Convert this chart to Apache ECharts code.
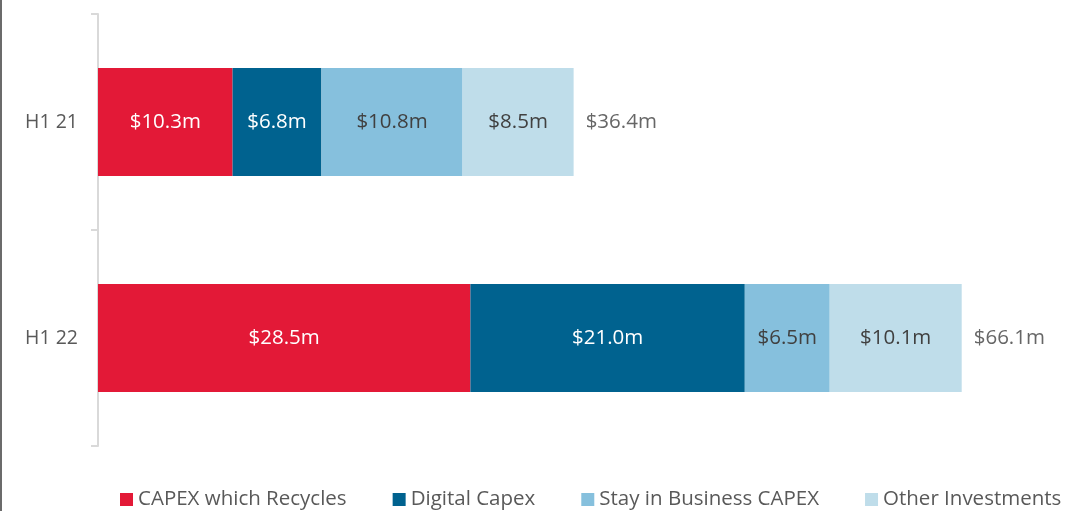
<!DOCTYPE html>
<html>
<head>
<meta charset="utf-8">
<script src="https://cdn.jsdelivr.net/npm/echarts@6/dist/echarts.min.js"></script>
<style>
  html, body { margin: 0; padding: 0; background: #fff; }
  #chart { width: 1078px; height: 511px; box-sizing: border-box; border-left: 2px solid #6b6b6b; }
</style>
</head>
<body>
<div id="chart"></div>
<script>
// Capital expenditure by half-year, $m
const categories = ['H1 21', 'H1 22'];
const seriesNames = ['CAPEX which Recycles', 'Digital Capex', 'Stay in Business CAPEX', 'Other Investments'];
const capexRecycles = [10.3, 28.5];
const digitalCapex = [6.8, 21.0];
const stayInBusiness = [10.8, 6.5];
const otherInvestments = [8.5, 10.1];
const totals = [36.4, 66.1];

const colors = ['#E31937', '#00628F', '#86C0DD', '#BFDDEA'];
const labelColors = ['#ffffff', '#ffffff', '#404040', '#404040'];
const values = [capexRecycles, digitalCapex, stayInBusiness, otherInvestments];
const FONT = '"Open Sans", sans-serif';

const fmt = v => '$' + v.toFixed(1) + 'm';

const chart = echarts.init(document.getElementById('chart'), null, { renderer: 'canvas' });

const barSeries = seriesNames.map((name, i) => ({
  name,
  type: 'bar',
  stack: 'total',
  barWidth: '50%',
  itemStyle: { color: colors[i] },
  label: {
    show: true,
    position: 'inside',
    color: labelColors[i],
    fontFamily: FONT,
    fontSize: 20.5,
    formatter: p => fmt(p.value[0])
  },
  emphasis: { disabled: true },
  data: values[i].map((v, j) => [v, categories[j]])
}));

// Totals printed just past the end of each stacked bar
const totalSeries = {
  name: 'Total',
  type: 'scatter',
  symbolSize: 0,
  silent: true,
  label: {
    show: true,
    position: 'right',
    distance: 12,
    color: '#404040',
    fontFamily: FONT,
    fontSize: 20.5,
    formatter: p => fmt(p.value[0])
  },
  data: totals.map((v, j) => [v, categories[j]])
};

chart.setOption({
  animation: false,
  grid: { left: 96, top: 14, width: 75 * 13.07, height: 432 },
  xAxis: {
    type: 'value',
    min: 0,
    max: 75,
    show: false
  },
  yAxis: {
    type: 'category',
    inverse: true,
    data: categories,
    axisLine: { lineStyle: { color: '#d9d9d9', width: 2 } },
    axisTick: { show: true, length: 7, lineStyle: { color: '#d9d9d9', width: 2 } },
    axisLabel: { color: '#595959', fontFamily: FONT, fontSize: 19.5, margin: 20 }
  },
  legend: {
    data: seriesNames,
    bottom: -4,
    left: 113,
    itemWidth: 13,
    itemHeight: 13,
    itemGap: 46,
    icon: 'rect',
    textStyle: { color: '#595959', fontFamily: FONT, fontSize: 20.5 }
  },
  series: [...barSeries, totalSeries]
});
</script>
</body>
</html>
